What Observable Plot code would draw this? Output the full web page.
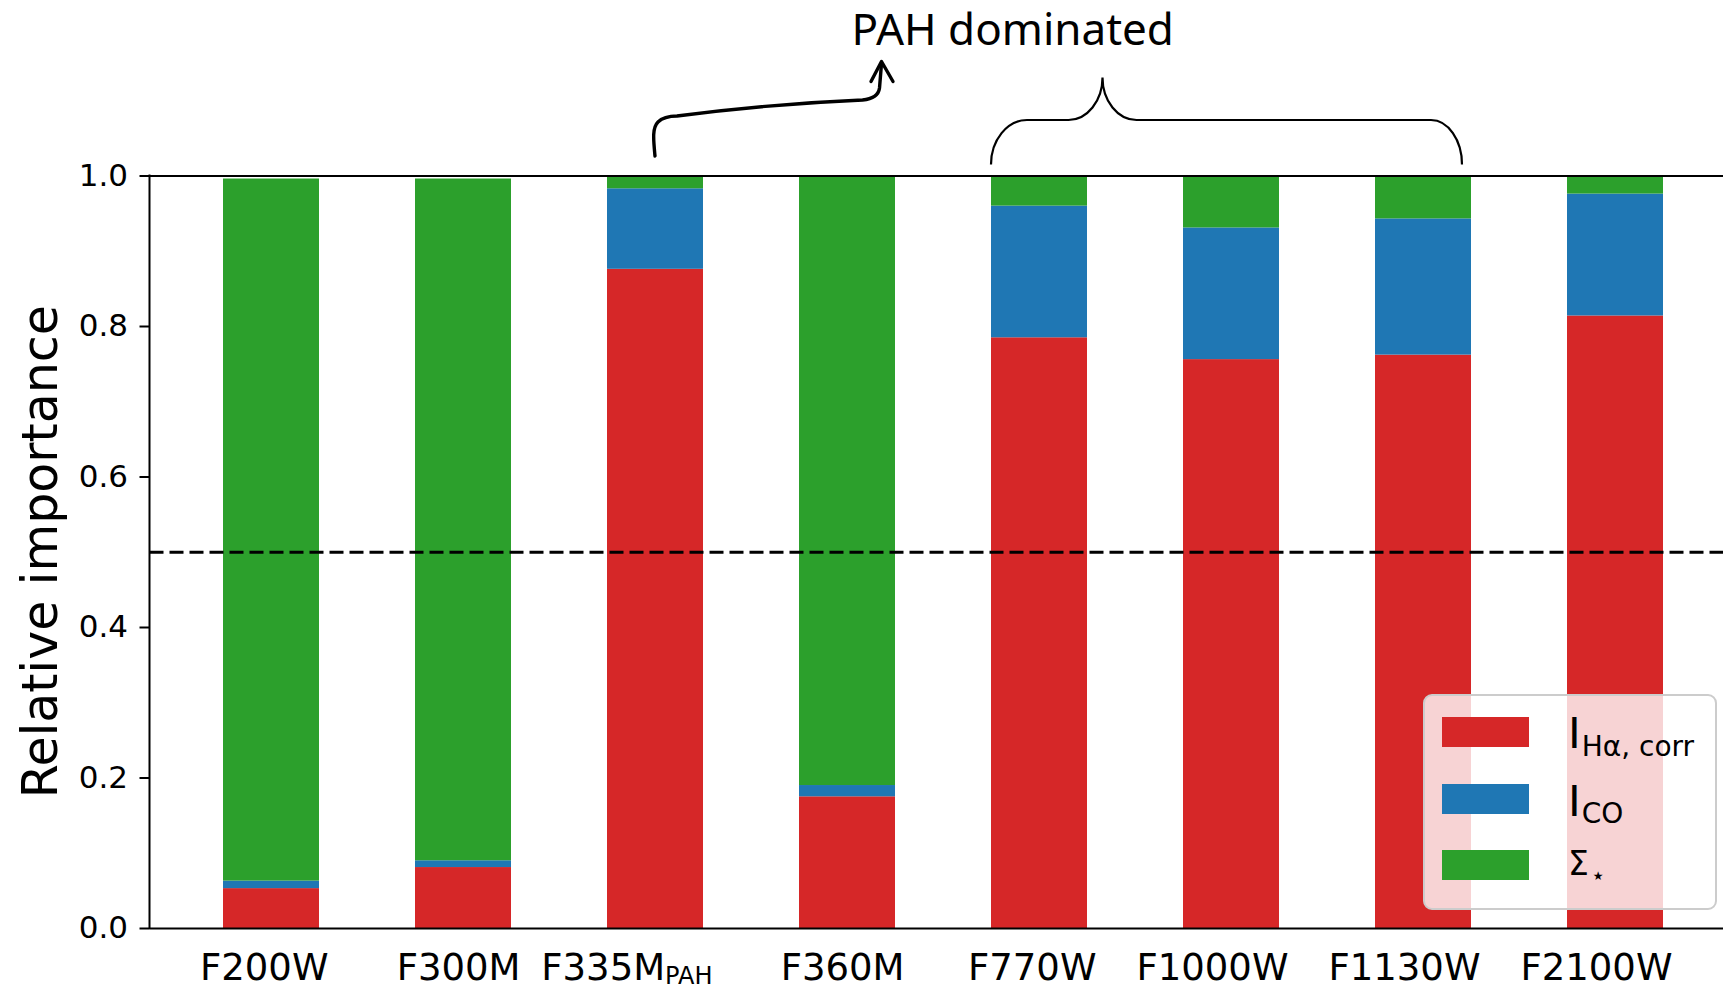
<!DOCTYPE html>
<html>
<head>
<meta charset="utf-8">
<script src="https://cdn.jsdelivr.net/npm/d3@7"></script>
<script src="https://cdn.jsdelivr.net/npm/@observablehq/plot@0.6"></script>
<style>
  html, body { margin: 0; padding: 0; background: #fff; overflow: hidden; }
  #chart svg { display: block; }
</style>
</head>
<body>
<div id="chart"></div>
<script>
// JWST / MIRI filters and the relative importance of each predictor
const filters = ["F200W", "F300M", "F335M_PAH", "F360M", "F770W", "F1000W", "F1130W", "F2100W"];
const haCorr  = [0.053, 0.081, 0.876, 0.175, 0.785, 0.756, 0.762, 0.814];
const coInt   = [0.010, 0.009, 0.107, 0.015, 0.175, 0.175, 0.181, 0.162];
const stellar = [0.933, 0.906, 0.017, 0.810, 0.040, 0.069, 0.057, 0.024];

const components = ["Ha", "CO", "Mstar"];
const componentColors = ["#d62728", "#1f77b4", "#2ca02c"];
const yTicks = [0, 0.2, 0.4, 0.6, 0.8, 1.0];
const threshold = 0.5;
const pahFilters = ["F770W", "F1000W", "F1130W"];

// long table for stacking: H-alpha at the bottom, then CO, then stellar mass
const rows = [];
filters.forEach((f, i) => {
  rows.push({filter: f, component: "Ha", value: haCorr[i]});
  rows.push({filter: f, component: "CO", value: coInt[i]});
  rows.push({filter: f, component: "Mstar", value: stellar[i]});
});

const W = 1723, H = 987;

const plot = Plot.plot({
  width: W,
  height: H,
  marginTop: 175.5,
  marginBottom: 59,
  marginLeft: 149.5,
  marginRight: 0,
  style: {fontFamily: "DejaVu Sans", background: "white", color: "black", overflow: "visible"},
  x: {domain: filters, paddingInner: 0.5, paddingOuter: 0.3414, align: 0.549, label: null},
  y: {domain: [0, 1], label: null},
  color: {domain: components, range: componentColors},
  marks: [
    Plot.barY(rows, {x: "filter", y: "value", fill: "component"}),
    Plot.ruleY([threshold], {stroke: "black", strokeWidth: 3, strokeDasharray: "14,6"}),
    Plot.ruleY([0, 1], {stroke: "black", strokeWidth: 2}),
    Plot.axisY({
      ticks: yTicks, tickFormat: d3.format(".1f"), tickSize: 10, tickPadding: 12,
      fontSize: 31, strokeWidth: 2, label: null
    }),
    Plot.axisX({
      tickSize: 0, tickPadding: 25, fontSize: 37, label: null,
      textAnchor: "end", dx: 57,
      tickFormat: d => d === "F335M_PAH" ? "F335M" : d
    })
  ]
});

document.getElementById("chart").appendChild(plot);

const svg = d3.select(plot);
const xs = plot.scale("x");
const ys = plot.scale("y");
const bw = xs.bandwidth;
const xLeft = v => xs.apply(v);
const xMid = v => xs.apply(v) + bw / 2;
const y0 = ys.apply(0), y1 = ys.apply(1);
const frameLeft = xs.range[0], frameRight = xs.range[1];

// left spine
svg.append("line")
  .attr("x1", frameLeft).attr("x2", frameLeft)
  .attr("y1", y0 + 1).attr("y2", y1 - 1)
  .attr("stroke", "black").attr("stroke-width", 2);

// y-axis title
svg.append("text")
  .attr("transform", `translate(57,${(y0 + y1) / 2}) rotate(-90)`)
  .attr("text-anchor", "middle")
  .attr("font-family", "DejaVu Sans").attr("font-size", 49).attr("fill", "black")
  .text("Relative importance");

// subscript on the F335M tick label
svg.selectAll("text").each(function () {
  if (this.textContent === "F335M" && this.closest("g[aria-label='x-axis tick label']")) {
    d3.select(this).append("tspan").attr("font-size", 24).attr("dy", 4).text("PAH");
  }
});

// "PAH dominated" annotation: brace over the MIRI PAH bands
const L = xLeft(pahFilters[0]);
const R = xLeft(pahFilters[pahFilters.length - 1]) + bw - 9;
const bot = y1 - 11, mid = y1 - 55.5, apexY = y1 - 98;
const apexX = L + 111.5;
const k = 0.55;
const bracePath = [
  `M${L},${bot}`,
  `C${L},${bot - k * (bot - mid)} ${L + 36 - k * 36},${mid} ${L + 36},${mid}`,
  `H${apexX - 34}`,
  `C${apexX - 34 + k * 34},${mid} ${apexX},${apexY + k * (mid - apexY)} ${apexX},${apexY}`,
  `C${apexX},${apexY + k * (mid - apexY)} ${apexX + 34 - k * 34},${mid} ${apexX + 34},${mid}`,
  `H${R - 31}`,
  `C${R - 31 + k * 31},${mid} ${R},${bot - k * (bot - mid)} ${R},${bot}`
].join(" ");
svg.append("path").attr("d", bracePath)
  .attr("fill", "none").attr("stroke", "black").attr("stroke-width", 2.2);

// curved arrow from the F335M bar
const ax = xMid("F335M_PAH");
const ay = y1 - 19.5;
const tipX = ax + 226.5, tipY = y1 - 114;
const arrowPath = [
  `M${ax},${ay}`,
  `C${ax - 1.5},${ay - 16} ${ax - 3},${ay - 28} ${ax + 3},${ay - 34}`,
  `C${ax + 8},${ay - 39} ${ax + 15},${ay - 40} ${ax + 22},${ay - 40}`,
  `Q${(ax + tipX) / 2},${ay - 52} ${tipX - 19},${ay - 56}`,
  `C${tipX - 9},${ay - 57} ${tipX - 3},${ay - 60} ${tipX - 2},${ay - 68}`,
  `L${tipX},${tipY + 2}`
].join(" ");
svg.append("path").attr("d", arrowPath)
  .attr("fill", "none").attr("stroke", "black").attr("stroke-width", 3.4)
  .attr("stroke-linecap", "round");
svg.append("path")
  .attr("d", `M${tipX - 10.5},${tipY + 20} L${tipX},${tipY} L${tipX + 11.5},${tipY + 20}`)
  .attr("fill", "none").attr("stroke", "black").attr("stroke-width", 3.4)
  .attr("stroke-linejoin", "round").attr("stroke-linecap", "round");

svg.append("text")
  .attr("x", tipX - 30).attr("y", 45)
  .attr("text-anchor", "start")
  .attr("font-family", "Noto Sans").attr("font-size", 44)
  .attr("fill", "black")
  .text("PAH dominated");

// legend box inside the lower right corner of the axes
const lgRight = frameRight - 7, lgBottom = y0 - 19;
const lgW = 292, lgH = 214;
const lgX = lgRight - lgW, lgY = lgBottom - lgH;
const lg = svg.append("g").attr("text-anchor", "start");
lg.append("rect")
  .attr("x", lgX).attr("y", lgY).attr("width", lgW).attr("height", lgH)
  .attr("rx", 8).attr("fill", "white").attr("fill-opacity", 0.8)
  .attr("stroke", "#cccccc").attr("stroke-width", 2);
const patchY = [lgY + 22, lgY + 89, lgY + 155];
components.forEach((c, i) => {
  lg.append("rect")
    .attr("x", lgX + 18).attr("y", patchY[i]).attr("width", 87).attr("height", 30)
    .attr("fill", componentColors[i]);
});
const tx = lgX + 144;
const lt1 = lg.append("text").attr("x", tx).attr("y", patchY[0] + 31)
  .attr("font-family", "DejaVu Sans").attr("font-size", 43).attr("fill", "black").text("I");
lt1.append("tspan").attr("font-size", 28).attr("dy", 8).attr("dx", 1).text("Hα, corr");
const lt2 = lg.append("text").attr("x", tx).attr("y", patchY[1] + 32)
  .attr("font-family", "DejaVu Sans").attr("font-size", 43).attr("fill", "black").text("I");
lt2.append("tspan").attr("font-size", 28).attr("dy", 7).attr("dx", 1).text("CO");
const lt3 = lg.append("text").attr("x", tx).attr("y", patchY[2] + 25)
  .attr("font-family", "DejaVu Sans").attr("font-size", 33).attr("fill", "black").text("Σ");
lt3.append("tspan").attr("font-size", 12).attr("dy", 5).attr("dx", 4).text("★");
</script>
</body>
</html>
